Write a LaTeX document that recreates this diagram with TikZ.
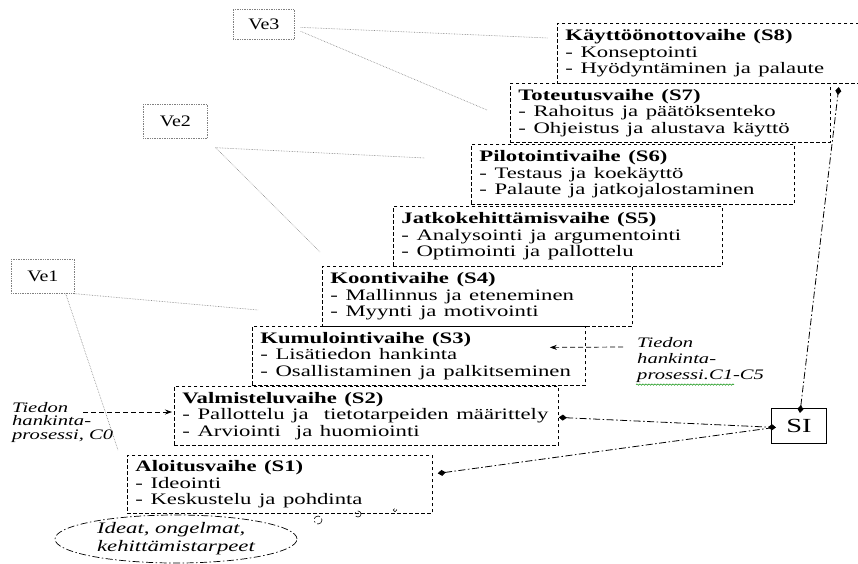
\documentclass[tikz,border=0pt]{standalone}
\usepackage{fontspec}
\usepackage{graphicx}
\setmainfont{Liberation Serif}
\usetikzlibrary{arrows.meta,calc,shapes.geometric,decorations.pathmorphing}

% text set wide, as in the original layout
\newcommand\wide[1]{\scalebox{1.42}[1]{#1}}

% one dashed stage box: name, left, top, right, bottom, heading, two items
\newcommand\stagebox[8]{%
  \pgfmathsetmacro\stw{#4-#2-16}%
  \pgfmathsetmacro\sth{#5-#3}%
  \node[stagebox, text width=\stw pt, minimum height=\sth pt] (#1) at (#2,#3)
    {\wide{\textbf{#6}}\\\wide{- #7}\\\wide{- #8}};}

\tikzset{dia/.tip={Diamond[length=8pt,width=6pt]}}

\begin{document}
\begin{tikzpicture}[x=1pt,y=-1pt,
  stagebox/.style={draw, dash pattern=on 3.5pt off 2.5pt, line width=0.8pt,
    anchor=north west, inner xsep=8pt, inner ysep=0pt, align=left,
    font=\fontsize{16}{16.5}\selectfont},
  vebox/.style={draw=gray, densely dotted, line width=0.7pt, anchor=north west,
    inner sep=0pt, font=\fontsize{16}{18}\selectfont},
  note/.style={anchor=north west, inner sep=0pt, align=left},
  vline/.style={draw=gray, line width=0.6pt, densely dotted},
  feed/.style={draw, dash pattern=on 5pt off 3pt, line width=0.7pt,
    -{Stealth[length=7pt,width=5pt]}},
  link/.style={draw, dash pattern=on 7pt off 2.5pt on 1.5pt off 2.5pt, line width=0.8pt}
]
\useasboundingbox (0,0) rectangle (858,563);
\fill[white] (0,0) rectangle (858,563);

% stages S8 ... S1, stepping down to the left
\stagebox{s8}{557}{23}{864}{83}{Käyttöönottovaihe (S8)}{Konseptointi}{Hyödyntäminen ja palaute}
\stagebox{s7}{510}{83}{830}{142}{Toteutusvaihe (S7)}{Rahoitus ja päätöksenteko}{Ohjeistus ja alustava käyttö}
\stagebox{s6}{471}{144}{794}{204}{Pilotointivaihe (S6)}{Testaus ja koekäyttö}{Palaute ja jatkojalostaminen}
\stagebox{s5}{393}{206}{722}{266}{Jatkokehittämisvaihe (S5)}{Analysointi ja argumentointi}{Optimointi ja pallottelu}
\stagebox{s4}{322}{266}{632}{326}{Koontivaihe (S4)}{Mallinnus ja eteneminen}{Myynti ja motivointi}
\stagebox{s3}{252}{326}{585}{385}{Kumulointivaihe (S3)}{Lisätiedon hankinta}{Osallistaminen ja palkitseminen}
\stagebox{s2}{174}{386}{558}{445}{Valmisteluvaihe (S2)}{Pallottelu ja\ \ tietotarpeiden määrittely}{Arviointi\ \ ja huomiointi}
\stagebox{s1}{127}{455}{432}{513}{Aloitusvaihe (S1)}{Ideointi}{Keskustelu ja pohdinta}

% Ve labels
\node[vebox, minimum width=61pt, minimum height=30pt] (ve3) at (233,9) {\scalebox{1.25}[1]{Ve3}};
\node[vebox, minimum width=64pt, minimum height=34pt] (ve2) at (143,104) {\scalebox{1.25}[1]{Ve2}};
\node[vebox, minimum width=63pt, minimum height=34pt] (ve1) at (11,259) {\scalebox{1.25}[1]{Ve1}};

% SI box
\node[draw, line width=0.9pt, anchor=north west, inner sep=0pt,
  minimum width=55pt, minimum height=35pt, font=\fontsize{20}{20}\selectfont]
  (si) at (771,408) {\wide{SI}};

% side notes on information gathering
\node[note, font=\itshape\fontsize{14.5}{13.5}\selectfont] (c0) at (12,402)
  {\wide{Tiedon}\\\wide{hankinta-}\\\wide{prosessi, C0}};
\node[note, font=\itshape\fontsize{14.5}{16}\selectfont] (c15) at (637,337)
  {\wide{Tiedon}\\\wide{hankinta-}\\\wide{prosessi.C1-C5}};
\draw[green!55!black, line width=0.5pt,
  decorate, decoration={snake, segment length=3pt, amplitude=0.7pt}]
  (c15.south west) ++(-1,2) coordinate (sq1) -- ($(sq1)+(98,0)$);

% idea cloud
\node[draw, ellipse, dash pattern=on 7pt off 2.5pt on 1.5pt off 2.5pt, line width=0.7pt,
  minimum width=242pt, minimum height=48pt, inner sep=0pt, align=left,
  font=\itshape\fontsize{16}{18}\selectfont] (idea) at (176,539)
  {\wide{Ideat, ongelmat,}\\\wide{kehittämistarpeet}};
\draw[link, line width=0.6pt] (318,520) circle (4);
\draw[link, line width=0.6pt] (358,514) circle (3);
\draw[link, line width=0.6pt] (395,510) circle (1.8);

% Ve leader lines
\coordinate (v3a) at ($(ve3.east)+(6,3)$);
\coordinate (v3b) at ($(ve3.east)+(6,7)$);
\coordinate (e3a) at ($(s8.north west)+(-9,15)$);
\coordinate (e3b) at ($(s7.north west)+(-23,27)$);
\draw[vline] (v3a) -- (e3a);
\draw[vline] (v3b) -- (e3b);
\coordinate (v2) at ($(ve2.south east)+(8,9)$);
\coordinate (e2a) at ($(s6.north west)+(-46,14)$);
\coordinate (e2b) at ($(s4.north west)+(-2,-14)$);
\draw[vline] (v2) -- (e2a);
\draw[vline] (v2) -- (e2b);
\coordinate (v1a) at (ve1.south east);
\coordinate (v1b) at ($(ve1.south east)+(-9,0)$);
\coordinate (e1a) at ($(s3.north west)+(6,-16)$);
\coordinate (e1b) at ($(s1.north west)+(-9,-5)$);
\draw[vline] (v1a) -- (e1a);
\draw[vline] (v1b) -- (e1b);

% information feeds
\coordinate (c0tail) at (83,412);
\draw[feed, shorten >=2pt] (c0tail) -- (c0tail -| s2.west);
\coordinate (c15tail) at (623,347);
\coordinate (c15head) at ($(s3.east)+(-36,-8.5)$);
\draw[feed] (c15tail) -- (c15head);

% SI links
\coordinate (siw) at ($(si.west)+(5,1.5)$);
\draw[link, dia-dia] ($(s2.east)+(0,1.5)$) -- (siw);
\draw[link, dia-] ($(s1.east)+(5,-11)$) -- ($(si.west)+(0,2)$);
\draw[link, dia-dia] ($(si.north)+(1,5)$) -- ($(s7.north east)+(8,4)$);
\end{tikzpicture}
\end{document}
